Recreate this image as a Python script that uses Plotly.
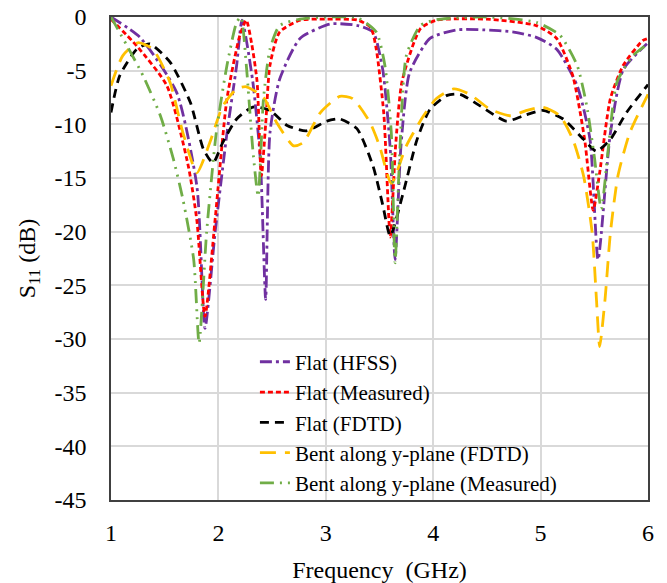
import plotly.graph_objects as go

# Flat (HFSS)
hfss_x = [1.0, 1.27, 1.61, 1.80, 1.875, 1.97, 2.08, 2.17, 2.22, 2.32, 2.39, 2.44, 2.48, 2.57, 2.76, 3.04, 3.3, 3.44, 3.53, 3.60, 3.645, 3.70, 3.78, 3.97, 4.22, 4.47, 4.75, 4.96, 5.15, 5.34, 5.46, 5.535, 5.65, 5.77, 5.99]
hfss_y = [0, -1.9, -7.0, -15.8, -29.0, -20.0, -10.8, -4.5, -0.3, -6.0, -13.2, -26.3, -10.8, -5.8, -2.0, -0.65, -0.8, -1.4, -4.9, -12.3, -22.6, -12.0, -5.2, -2.0, -1.2, -1.2, -1.4, -1.9, -3.0, -6.4, -11.4, -22.6, -10.8, -4.9, -2.5]

# Flat (Measured)
meas_x = [1.0, 1.24, 1.52, 1.72, 1.80, 1.875, 1.97, 2.08, 2.20, 2.26, 2.31, 2.36, 2.40, 2.44, 2.48, 2.57, 2.76, 3.0, 3.3, 3.42, 3.47, 3.54, 3.60, 3.65, 3.71, 3.88, 4.03, 4.5, 4.96, 5.15, 5.30, 5.41, 5.49, 5.55, 5.65, 5.77, 5.95, 6.0]
meas_y = [-0.2, -2.7, -6.4, -13.9, -19.0, -27.9, -18.8, -7.6, -1.7, -0.3, -2.5, -6.0, -14.8, -10.0, -4.5, -1.4, -0.3, -0.2, -0.3, -1.0, -3.0, -9.0, -20.5, -12.0, -6.0, -1.1, -0.3, -0.2, -0.8, -2.0, -5.5, -11.4, -18.0, -14.5, -7.6, -4.5, -2.2, -2.0]

# Flat (FDTD)
fdtd_x = [1.0, 1.08, 1.24, 1.36, 1.55, 1.74, 1.86, 1.95, 2.04, 2.17, 2.32, 2.48, 2.64, 2.82, 3.01, 3.13, 3.29, 3.44, 3.53, 3.60, 3.72, 3.85, 3.97, 4.13, 4.25, 4.44, 4.68, 4.84, 5.02, 5.21, 5.40, 5.52, 5.65, 5.80, 6.0]
fdtd_y = [-8.9, -5.5, -3.0, -2.5, -4.2, -8.0, -12.3, -13.6, -11.7, -9.5, -8.4, -8.7, -10.1, -10.6, -9.7, -9.5, -10.4, -13.9, -17.5, -20.4, -16.4, -11.4, -8.6, -7.3, -7.2, -8.3, -9.7, -9.2, -8.7, -9.5, -11.4, -12.5, -11.4, -8.9, -6.3]

# Bent along y-plane (FDTD)
bfdtd_x = [1.0, 1.11, 1.25, 1.39, 1.55, 1.67, 1.80, 1.92, 2.04, 2.17, 2.26, 2.42, 2.54, 2.70, 2.79, 2.95, 3.13, 3.25, 3.41, 3.50, 3.61, 3.75, 3.91, 4.03, 4.19, 4.34, 4.53, 4.72, 4.87, 5.02, 5.18, 5.30, 5.40, 5.48, 5.52, 5.55, 5.60, 5.65, 5.72, 5.83, 6.0]
bfdtd_y = [-6.4, -3.6, -2.4, -3.0, -6.1, -10.8, -14.5, -11.7, -8.3, -6.7, -6.5, -7.5, -9.8, -12.0, -11.7, -8.9, -7.4, -7.6, -9.8, -12.0, -15.5, -12.0, -9.2, -7.6, -6.7, -7.2, -8.6, -9.2, -8.7, -8.4, -9.2, -11.4, -14.8, -20.1, -26.3, -30.7, -26.3, -20.1, -14.8, -10.8, -7.2]

# Bent along y-plane (Measured)
bmeas_x = [1.0, 1.15, 1.30, 1.46, 1.58, 1.67, 1.77, 1.82, 1.89, 1.98, 2.08, 2.17, 2.21, 2.26, 2.32, 2.37, 2.42, 2.48, 2.57, 2.76, 3.0, 3.3, 3.47, 3.55, 3.61, 3.645, 3.69, 3.75, 3.88, 4.03, 4.5, 4.96, 5.18, 5.34, 5.43, 5.50, 5.565, 5.63, 5.71, 5.86, 6.0]
bmeas_y = [0, -2.7, -5.5, -9.2, -13.2, -17.0, -22.6, -30.4, -20.1, -10.8, -4.5, -0.5, 0, -4.5, -12.3, -16.7, -7.6, -3.0, -0.8, -0.2, 0, -0.1, -1.4, -4.5, -10.8, -22.9, -12.3, -3.6, -0.8, -0.25, 0, -0.5, -1.7, -4.5, -8.3, -13.0, -17.9, -12.3, -6.1, -3.6, -2.5]

x_ticks = [1, 2, 3, 4, 5, 6]
y_ticks = [0, -5, -10, -15, -20, -25, -30, -35, -40, -45]

series = [
    ("Flat (HFSS)", hfss_x, hfss_y, "#7030A0", "12px,4px,3px,4px"),
    ("Flat (Measured)", meas_x, meas_y, "#FF0000", "5px,3px"),
    ("Flat (FDTD)", fdtd_x, fdtd_y, "#000000", "9px,6px"),
    ("Bent along y-plane (FDTD)", bfdtd_x, bfdtd_y, "#FFC000", "16px,9px"),
    ("Bent along y-plane (Measured)", bmeas_x, bmeas_y, "#70AD47", "14px,6px,2px,6px,2px,6px"),
]

fig = go.Figure()
for name, xs, ys, color, dash in series:
    fig.add_trace(go.Scatter(
        x=xs, y=ys, name=name, mode="lines",
        line=dict(color=color, width=2.8, dash=dash, shape="spline", smoothing=0.6),
    ))

font_family = "Liberation Serif"
fig.update_layout(
    width=667, height=583,
    margin=dict(l=111, r=19, t=17, b=83, autoexpand=False),
    paper_bgcolor="white", plot_bgcolor="white",
    font=dict(family=font_family, size=24, color="#000000"),
    showlegend=True,
    legend=dict(
        x=0.268, y=0.328, xanchor="left", yanchor="top",
        bgcolor="rgba(255,255,255,0)", borderwidth=0,
        font=dict(family=font_family, size=21),
        tracegroupgap=0,
    ),
    xaxis=dict(
        range=[1, 6], tickvals=x_ticks, ticktext=[str(v) for v in x_ticks],
        showgrid=True, gridcolor="#D9D9D9", gridwidth=1.5,
        showline=True, linecolor="#404040", linewidth=1.5, mirror=True,
        zeroline=False, ticks="", ticklabelstandoff=10,
        tickfont=dict(size=24),
        title=dict(text="Frequency  (GHz)", standoff=19, font=dict(size=24)),
    ),
    yaxis=dict(
        range=[-45, 0], tickvals=y_ticks, ticktext=[str(v) for v in y_ticks],
        showgrid=True, gridcolor="#D9D9D9", gridwidth=1.5,
        showline=True, linecolor="#404040", linewidth=1.5, mirror=True,
        zeroline=False, ticks="", ticklabelstandoff=18,
        tickfont=dict(size=24),
        title=dict(text="S<sub>11</sub> (dB)", standoff=12, font=dict(size=24)),
    ),
)

fig.write_html(
    "out.html",
    config={"displayModeBar": False},
    post_script="document.body.style.margin='0';document.body.style.overflow='hidden';",
)
